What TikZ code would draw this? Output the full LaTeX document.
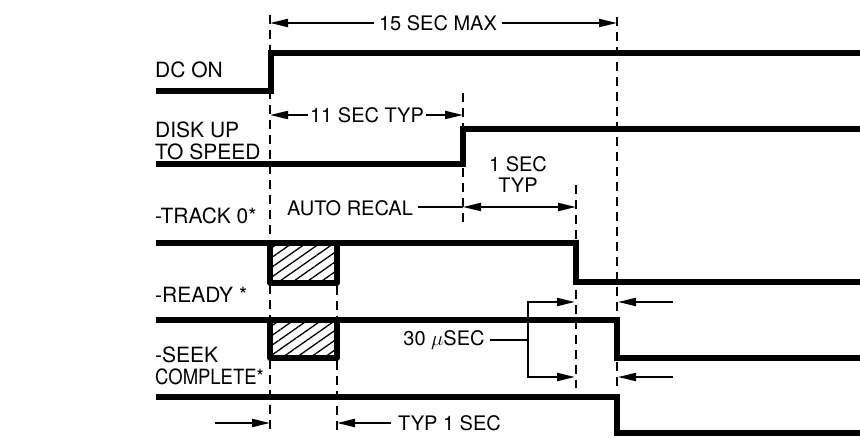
\documentclass[tikz,border=0pt]{standalone}
\usepackage{fontspec}
\setmainfont{TeX Gyre Heros}
\usetikzlibrary{arrows.meta,patterns.meta}
\begin{document}
\begin{tikzpicture}[x=1pt,y=-1pt,
  sig/.style={line width=5.5pt,line join=miter,line cap=butt},
  dsh/.style={line width=2.6pt,dash pattern=on 9pt off 6pt},
  ln/.style={line width=2pt},
  arr/.style={line width=2pt,-{Triangle[length=18pt,width=8pt]}},
  darr/.style={line width=2pt,{Triangle[length=18pt,width=8pt]}-{Triangle[length=18pt,width=8pt]}},
  lbl/.style={font=\fontsize{21}{22.5}\selectfont,anchor=west,inner sep=0pt,align=left},
  txt/.style={font=\fontsize{20}{22}\selectfont,inner sep=5pt,align=center},
  hatch/.style={pattern={Lines[angle=35,distance=8pt,line width=1.3pt]}}]
\useasboundingbox (0,0) rectangle (860,438);
% time marks
\coordinate (tA) at (270,0);
\coordinate (tB) at (337,0);
\coordinate (tC) at (463,0);
\coordinate (tD) at (576,0);
\coordinate (tE) at (617,0);
% labels
\node[lbl] (ldc) at (155,70) {DC ON};
\node[lbl] (ldisk) at (155,141) {DISK UP\\TO SPEED};
\node[lbl] (ltrk) at (155,216) {-TRACK 0*};
\node[lbl] (lrdy) at (155,295) {-READY *};
\node[lbl] (lseek) at (155,366) {-SEEK\\\scalebox{0.88}[1]{COMPLETE*}};
% hatched boxes
\fill[hatch] (270,243) rectangle (337,283);
\fill[hatch] (270,320) rectangle (337,358);
% dashed lines
\draw[dsh] (tA |- 0,15) -- (tA |- 0,432);
\draw[dsh] (tB |- 0,286) -- (tB |- 0,432);
\draw[dsh] (tC |- 0,93) -- (tC |- 0,224);
\draw[dsh] (tD |- 0,185) -- (tD |- 0,388);
\draw[dsh] (tE |- 0,17) -- (tE |- 0,388);
% signals
\draw[sig] (156,91) -- (271,91) -- (271,53) -- (860,53);
\draw[sig] (156,164) -- (463,164) -- (463,129) -- (860,129);
\draw[sig] (156,243) -- (576,243) -- (576,282) -- (860,282);
\draw[sig] (156,320) -- (617,320) -- (617,358) -- (860,358);
\draw[sig] (156,397) -- (617,397) -- (617,433) -- (860,433);
\draw[sig,line join=round] (270,243) -- (270,283) -- (337,283) -- (337,243);
\draw[sig,line join=round] (270,320) -- (270,358) -- (337,358) -- (337,320);
% 15 SEC MAX
\node[txt] (t15) at (438,23) {15 SEC MAX};
\draw[arr] (t15.west) -- (tA |- t15.west);
\draw[arr] (t15.east) -- (tE |- t15.east);
% 11 SEC TYP
\node[txt,inner sep=2pt] (t11) at (367,115) {11 SEC TYP};
\draw[arr] (t11.west) -- (tA |- t11.west);
\draw[arr] (t11.east) -- (tC |- t11.east);
% 1 SEC TYP / AUTO RECAL
\node[txt,font=\fontsize{20}{21}\selectfont] (t1) at (518,175) {1 SEC\\TYP};
\coordinate (d1) at (463,207);
\coordinate (d2) at (576,207);
\draw[darr] (d1) -- (d2);
\node[txt] (tar) at (350,208) {AUTO RECAL};
\draw[ln] (tar.east |- d1) -- (d1);
% 30 usec
\node[txt] (t30) at (444,340) {30 $\mu$SEC};
\coordinate (br) at (528,340);
\draw[ln] (t30.east) -- (br);
\draw[darr] (575,302) -- (br |- 0,302) -- (br |- 0,377) -- (575,377);
\coordinate (r1) at (673,302);
\coordinate (r2) at (673,377);
\draw[arr] (r1) -- (618,302);
\draw[arr] (r2) -- (618,377);
% TYP 1 SEC
\coordinate (b1) at (215,423);
\draw[arr] (b1) -- (tA |- b1);
\node[txt,anchor=west,inner sep=0pt] (ttyp) at (398,423) {TYP 1 SEC};
\draw[arr] (391,423) -- (tB |- 0,423);
\end{tikzpicture}
\end{document}
